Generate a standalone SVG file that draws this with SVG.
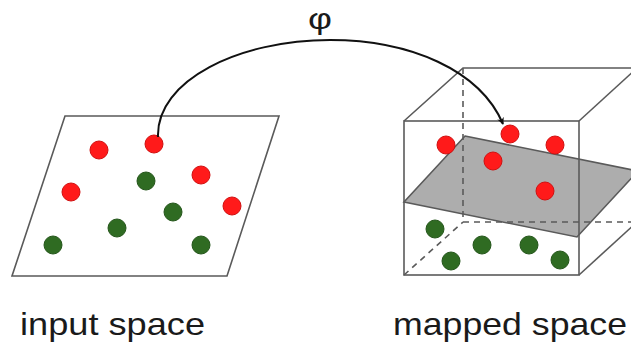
<svg xmlns="http://www.w3.org/2000/svg" width="631" height="350" viewBox="0 0 631 350">
  <style>
    .edge { fill: none; stroke: #5a5a5a; stroke-width: 1.6; }
    .hidden { fill: none; stroke: #5a5a5a; stroke-width: 1.6; stroke-dasharray: 6 5; }
    .red { fill: #ff1a1a; stroke: #d01010; stroke-width: 1; }
    .green { fill: #2f6b22; stroke: #25561b; stroke-width: 1; }
    .label { font-family: "Liberation Sans", Arial, sans-serif; fill: #1a1a1a; }
  </style>
  <defs>
    <marker id="arrow" viewBox="0 0 10 10" refX="9" refY="5" markerWidth="7" markerHeight="7" orient="auto" markerUnits="userSpaceOnUse">
      <path d="M0,0 L10,5 L0,10 L3,5 z" fill="#111"/>
    </marker>
  </defs>

  <rect width="631" height="350" fill="#ffffff"/>

  <!-- input space: flat parallelogram with the sample points -->
  <g id="input-space">
    <polygon class="edge" points="65,116 279,116 227,276 12,276"/>
    <circle class="red" cx="99" cy="150" r="9"/>
    <circle class="red" cx="154" cy="144" r="9"/>
    <circle class="red" cx="201" cy="175" r="9"/>
    <circle class="red" cx="71" cy="192" r="9"/>
    <circle class="red" cx="232" cy="206" r="9"/>
    <circle class="green" cx="146" cy="181" r="9"/>
    <circle class="green" cx="173" cy="212" r="9"/>
    <circle class="green" cx="117" cy="228" r="9"/>
    <circle class="green" cx="53" cy="245" r="9"/>
    <circle class="green" cx="201" cy="245" r="9"/>
  </g>

  <!-- mapped space: cube with the separating plane -->
  <g id="mapped-space">
    <polygon points="465,136 638,171 577,237 404,202" fill="#a6a6a6" fill-opacity="0.92" stroke="#5a5a5a" stroke-width="1.6"/>
    <!-- hidden back edges -->
    <line class="hidden" x1="463" y1="68" x2="463" y2="222"/>
    <line class="hidden" x1="463" y1="222" x2="637" y2="222"/>
    <line class="hidden" x1="404" y1="275" x2="463" y2="222"/>
    <!-- visible edges -->
    <rect class="edge" x="404" y="121" width="175" height="154"/>
    <polyline class="edge" points="404,121 463,68 637,68"/>
    <line class="edge" x1="579" y1="121" x2="637" y2="68"/>
    <line class="edge" x1="579" y1="275" x2="637" y2="222"/>
    <circle class="red" cx="446" cy="145" r="9"/>
    <circle class="red" cx="510" cy="134" r="9"/>
    <circle class="red" cx="555" cy="145" r="9"/>
    <circle class="red" cx="493" cy="161" r="9"/>
    <circle class="red" cx="545" cy="191" r="9"/>
    <circle class="green" cx="435" cy="229" r="9"/>
    <circle class="green" cx="482" cy="245" r="9"/>
    <circle class="green" cx="529" cy="245" r="9"/>
    <circle class="green" cx="451" cy="261" r="9"/>
    <circle class="green" cx="560" cy="260" r="9"/>
  </g>

  <!-- mapping arrow -->
  <g id="connectors">
    <path d="M158,137 C156,80 240,40 330,40 C410,40 480,70 503,124" fill="none" stroke="#111" stroke-width="2" marker-end="url(#arrow)"/>
  </g>

  <g id="labels">
    <text class="label" x="308" y="29" font-size="30" textLength="24" lengthAdjust="spacingAndGlyphs">φ</text>
    <text class="label" x="20" y="335" font-size="32" textLength="185" lengthAdjust="spacingAndGlyphs">input space</text>
    <text class="label" x="393" y="335" font-size="32" textLength="234" lengthAdjust="spacingAndGlyphs">mapped space</text>
  </g>
</svg>
